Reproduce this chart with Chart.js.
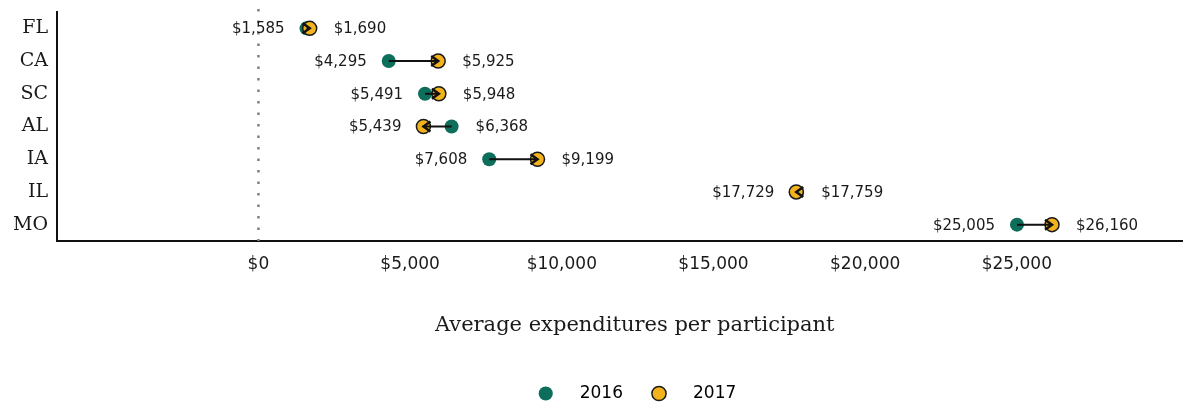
<!DOCTYPE html>
<html>
<head>
<meta charset="utf-8">
<script src="https://cdn.jsdelivr.net/npm/chart.js@4.4.0/dist/chart.umd.min.js"></script>
<style>
  html, body { margin: 0; padding: 0; background: #fff; overflow: hidden; }
  #wrap { position: relative; width: 1221px; height: 402px; }
</style>
</head>
<body>
<div id="wrap"><canvas id="chart"></canvas></div>
<script>
const states = ['FL', 'CA', 'SC', 'AL', 'IA', 'IL', 'MO'];
const spend2016 = [1585, 4295, 5491, 6368, 7608, 17759, 25005];
const spend2017 = [1690, 5925, 5948, 5439, 9199, 17729, 26160];
const xTicks = [0, 5000, 10000, 15000, 20000, 25000];

const green = '#0d6e5b';
const gold = '#f3b31c';
const numFont = 'DejaVu Sans';
const serifFont = 'DejaVu Serif';

const money = v => '$' + v.toLocaleString('en-US');

// dotted line at $0
const zeroLine = {
  id: 'zeroLine',
  beforeDatasetsDraw(chart) {
    const { ctx, chartArea, scales } = chart;
    const x0 = scales.x.getPixelForValue(0);
    ctx.save();
    ctx.strokeStyle = '#808080';
    ctx.lineWidth = 2.5;
    ctx.setLineDash([2.5, 9]);
    ctx.beginPath();
    ctx.moveTo(x0, chartArea.top - 3);
    ctx.lineTo(x0, chartArea.bottom);
    ctx.stroke();
    ctx.restore();
  }
};

// arrows from 2016 to 2017 plus value labels
const arrowsAndLabels = {
  id: 'arrowsAndLabels',
  afterDatasetsDraw(chart) {
    const { ctx, scales } = chart;
    ctx.save();
    states.forEach((s, i) => {
      const y = scales.y.getPixelForValue(i);
      const a = scales.x.getPixelForValue(spend2016[i]);
      const b = scales.x.getPixelForValue(spend2017[i]);
      const dir = b >= a ? 1 : -1;

      ctx.strokeStyle = '#111';
      ctx.lineWidth = 2;
      ctx.beginPath();
      ctx.moveTo(a, y);
      ctx.lineTo(b, y);
      ctx.stroke();
      ctx.lineWidth = 2.5;
      ctx.beginPath();
      ctx.moveTo(b - dir * 7, y - 5);
      ctx.lineTo(b, y);
      ctx.lineTo(b - dir * 7, y + 5);
      ctx.stroke();

      const lo = Math.min(spend2016[i], spend2017[i]);
      const hi = Math.max(spend2016[i], spend2017[i]);
      ctx.fillStyle = '#1a1a1a';
      ctx.font = '15px "' + numFont + '"';
      ctx.textBaseline = 'middle';
      ctx.textAlign = 'right';
      ctx.fillText(money(lo), scales.x.getPixelForValue(lo) - 22, y + 1);
      ctx.textAlign = 'left';
      ctx.fillText(money(hi), scales.x.getPixelForValue(hi) + 24, y + 1);
    });
    ctx.restore();
  }
};

// legend is centred on the whole (uncropped) figure, nudge it
const legendNudge = {
  id: 'legendNudge',
  afterLayout(chart) {
    const lg = chart.legend;
    lg.left += 39; lg.right += 39;
    lg.top += 10; lg.bottom += 10;
  }
};

new Chart(document.getElementById('chart'), {
  type: 'scatter',
  data: {
    datasets: [
      {
        label: '2016',
        data: states.map((s, i) => ({ x: spend2016[i], y: s })),
        backgroundColor: green,
        borderColor: green,
        borderWidth: 0,
        pointRadius: 7,
        order: 2
      },
      {
        label: '2017',
        data: states.map((s, i) => ({ x: spend2017[i], y: s })),
        backgroundColor: gold,
        borderColor: '#1a1a1a',
        borderWidth: 1.5,
        pointRadius: 7,
        order: 1
      }
    ]
  },
  options: {
    responsive: true,
    maintainAspectRatio: false,
    animation: false,
    layout: { padding: { top: 12, left: 0, right: 0, bottom: 0 } },
    scales: {
      x: {
        type: 'linear',
        min: -6640,
        max: 31450,
        afterBuildTicks: scale => { scale.ticks = xTicks.map(v => ({ value: v })); },
        afterFit: scale => { scale.height = 132; },
        grid: { display: false, drawTicks: false },
        border: { color: '#111', width: 2 },
        ticks: {
          padding: 13,
          color: '#1a1a1a',
          font: { family: numFont, size: 17 },
          callback: v => money(v)
        },
        title: {
          display: true,
          text: 'Average expenditures per participant',
          color: '#1a1a1a',
          font: { family: serifFont, size: 21 },
          padding: { top: 0, bottom: 35 }
        }
      },
      y: {
        type: 'category',
        labels: states,
        offset: true,
        afterFit: scale => {
          scale.width = 57;
          scale.paddingTop = 0;
          scale.paddingBottom = 0;
        },
        grid: { display: false, drawTicks: false },
        border: { color: '#111', width: 2 },
        ticks: {
          padding: 9,
          color: '#1a1a1a',
          font: { family: serifFont, size: 19 }
        }
      }
    },
    plugins: {
      legend: {
        position: 'bottom',
        labels: {
          usePointStyle: true,
          boxHeight: 10,
          padding: 2,
          color: '#1a1a1a',
          font: { family: numFont, size: 17 },
          generateLabels: chart => chart.data.datasets.map((d, i) => ({
            text: '\u2002\u2002' + d.label + '\u2002\u2002\u2002',
            fillStyle: d.backgroundColor,
            strokeStyle: d.borderColor,
            lineWidth: d.borderWidth,
            pointStyle: 'circle',
            datasetIndex: i
          }))
        }
      },
      tooltip: { enabled: false }
    }
  },
  plugins: [zeroLine, arrowsAndLabels, legendNudge]
});
</script>
</body>
</html>
